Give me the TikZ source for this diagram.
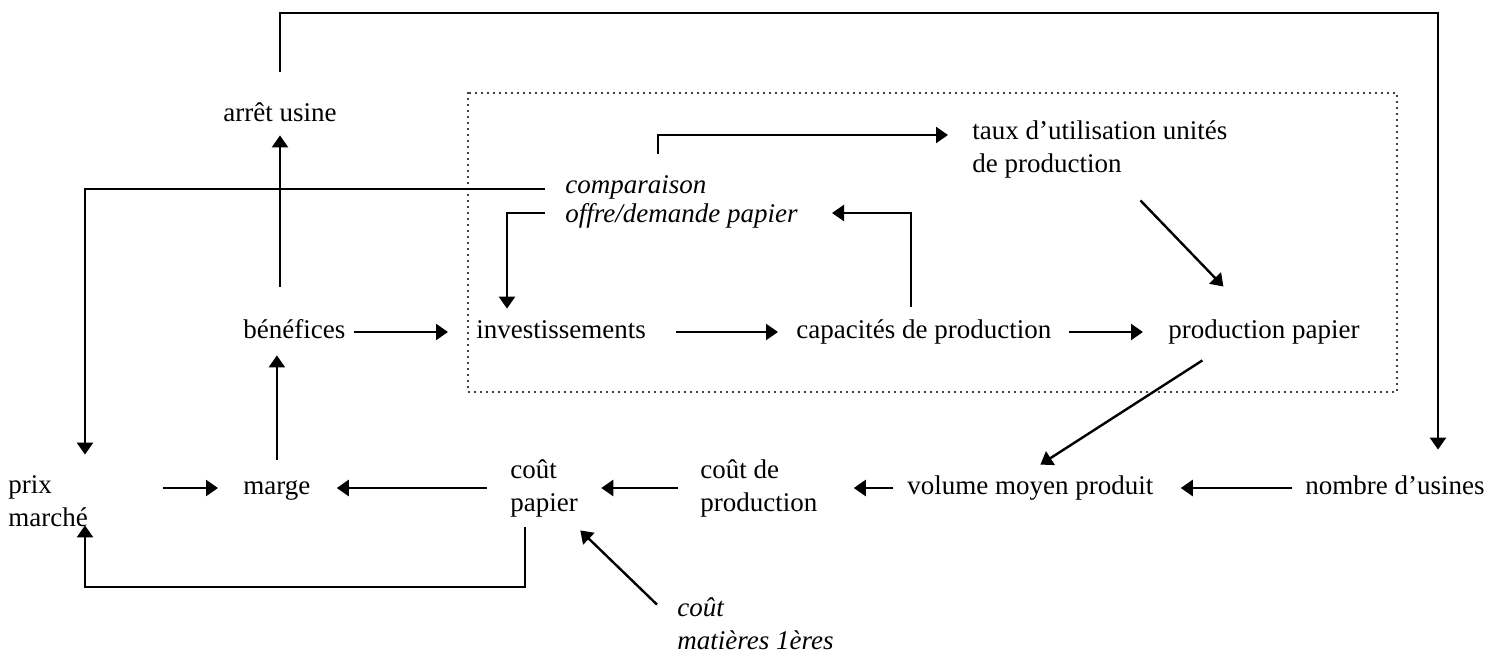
\documentclass[tikz,border=0pt]{standalone}
\usepackage{fontspec}
\setmainfont{Liberation Serif}
\usetikzlibrary{arrows.meta}
\begin{document}
\begin{tikzpicture}[x=0.5pt,y=-0.5pt,
  lbl/.style={inner sep=0pt, anchor=west, align=left, font=\fontsize{13.5}{16.5}\selectfont},
  one/.style={lbl, execute at begin node=\strut},
  itl/.style={lbl, font=\fontsize{13.5}{14.5}\selectfont\itshape},
  wire/.style={line width=1.2pt},
  arr/.style={wire, -{Triangle[length=6pt,width=8pt]}},
  frame/.style={line width=1.1pt, line cap=round, dash pattern=on 0pt off 3pt}
]
\useasboundingbox (0,0) rectangle (1505,653);

% dotted frame round the investment loop
\draw[frame] (468,93) rectangle (1397,392);

% labels
\node[one] (arret) at (223,115) {arrêt usine};
\node[itl] (comp) at (565,202.5) {\strut comparaison\\offre/demande papier\strut};
\node[lbl] (taux) at (972,149.5) {\strut taux d’utilisation unités\\de production\strut};
\node[one] (ben) at (243,332) {bénéfices};
\node[one] (inv) at (476,332) {investissements};
\node[one] (cap) at (796,332) {capacités de production};
\node[one] (prod) at (1168,332) {production papier};
\node[lbl] (prix) at (8,503.5) {\strut prix\\marché\strut};
\node[one] (marge) at (243,488) {marge};
\node[lbl] (coutp) at (510,488.5) {\strut coût\\papier\strut};
\node[lbl] (coutprod) at (700,488.5) {\strut coût de\\production\strut};
\node[one] (vol) at (907,488) {volume moyen produit};
\node[one] (nombre) at (1305,488) {nombre d’usines};
\node[itl, font=\fontsize{13.5}{16.5}\selectfont\itshape] (cmat) at (677,626.5) {\strut coût\\matières 1ères\strut};

% bend points
\coordinate (topR) at (1438,13);
\coordinate (cL) at (85,189);
\coordinate (cI) at (507,213);
\coordinate (cC) at (911,213);
\coordinate (cT) at (658,135);
\coordinate (xB) at (525,587);
\coordinate (bL) at (85,587);

% main row
\draw[arr, shorten <=4pt, shorten >=14pt] (ben.east) -- (inv.west);
\draw[arr, shorten <=15pt, shorten >=9pt] (inv.east) -- (cap.west);
\draw[arr, shorten <=8.5pt, shorten >=12.5pt] (cap.east) -- (prod.west);

% bottom row
\draw[arr, shorten <=37.5pt, shorten >=12.5pt] (prix.east |- marge.west) -- (marge.west);
\draw[arr, shorten <=11.5pt, shorten >=13pt] (coutp.west |- marge.east) -- (marge.east);
\draw[arr, shorten <=11pt, shorten >=11.5pt] (coutprod.west |- marge.east) -- (coutp.east |- marge.east);
\draw[arr, shorten <=7pt, shorten >=18pt] (vol.west) -- (coutprod.east |- vol.west);
\draw[arr, shorten <=6.5pt, shorten >=13.5pt] (nombre.west) -- (vol.east);

% vertical links on the left
\draw[arr, shorten <=5.75pt, shorten >=3.25pt] (marge.north) -- (marge.north |- ben.south);
\draw[arr, shorten <=14.25pt, shorten >=1.75pt] (arret.south |- ben.north) -- (arret.south);

% closing of a plant back to the number of plants
\draw[arr, shorten <=13.25pt, shorten >=10.75pt] (arret.north) -- (arret.north |- topR) -- (topR) -- (topR |- nombre.north);

% supply/demand comparison
\draw[arr, shorten <=10pt, shorten >=7.75pt] (comp.west |- cL) -- (cL) -- (cL |- prix.north);
\draw[arr, shorten <=10pt, shorten >=3.25pt] (comp.west |- cI) -- (cI) -- (cI |- inv.north);
\draw[arr, shorten <=4.25pt, shorten >=17pt] (cC |- cap.north) -- (cC) -- (comp.east |- cC);
\draw[arr, shorten <=9.75pt, shorten >=12pt] (cT |- comp.north) -- (cT) -- (taux.west |- cT);

% diagonal links
\draw[arr] ([xshift=20.25pt,yshift=-8.75pt]taux.south) -- ([xshift=-20.3pt,yshift=14.25pt]prod.north);
\draw[arr] ([xshift=-30.8pt,yshift=-5.75pt]prod.south) -- ([xshift=5pt,yshift=3.25pt]vol.north);
\draw[arr] ([xshift=-10pt,yshift=-5.75pt]cmat.north west) -- ([xshift=1pt,yshift=-4.25pt]coutp.south east);

% paper cost back to the market price
\draw[arr, shorten <=2.75pt, shorten >=-5.75pt] (coutp.south -| xB) -- (xB) -- (bL) -- (bL |- prix.south);
\end{tikzpicture}
\end{document}
